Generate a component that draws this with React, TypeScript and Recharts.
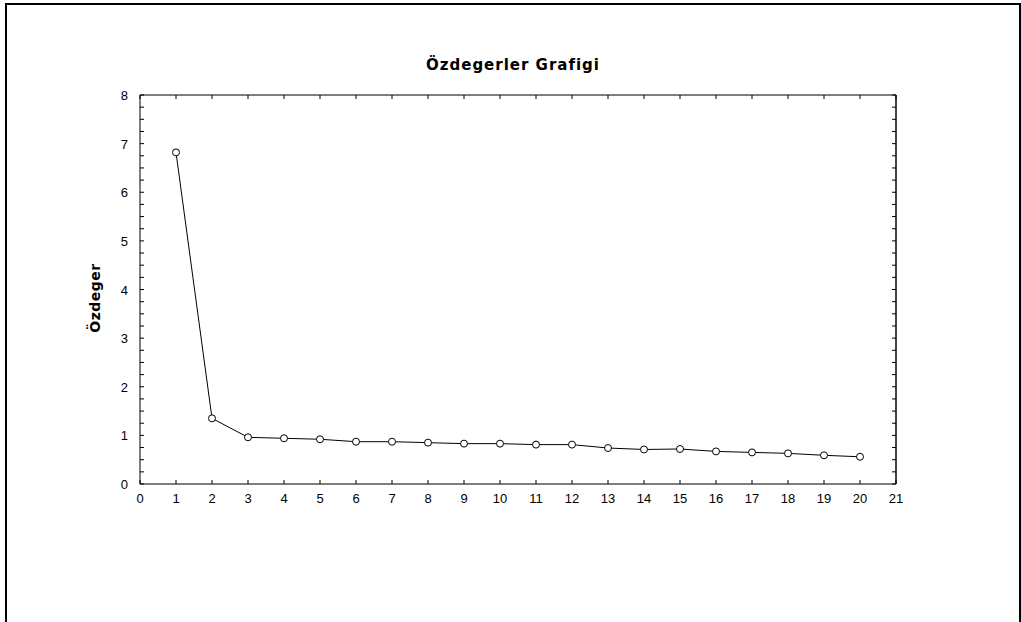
import { LineChart, Line, XAxis, YAxis } from 'recharts';

const components = [1, 2, 3, 4, 5, 6, 7, 8, 9, 10, 11, 12, 13, 14, 15, 16, 17, 18, 19, 20];
const eigenvalues = [6.82, 1.35, 0.96, 0.94, 0.92, 0.87, 0.87, 0.85, 0.83, 0.83, 0.81, 0.81, 0.74, 0.71, 0.72, 0.67, 0.65, 0.63, 0.59, 0.56];
const xTicks = [0, 1, 2, 3, 4, 5, 6, 7, 8, 9, 10, 11, 12, 13, 14, 15, 16, 17, 18, 19, 20, 21];
const yTicks: number[] = [];
for (let i = 0; i <= 32; i++) yTicks.push(i / 4);

const title = 'Özdegerler Grafigi';
const yLabel = 'Özdeger';

const data = components.map((c, i) => ({ comp: c, value: eigenvalues[i] }));

const FONT = '"Liberation Sans", Arial, sans-serif';
const BOLD = '"DejaVu Sans", Verdana, sans-serif';
const TICK = 4;

const BottomTick = (props: any) => {
    const { x, y, payload } = props;
    return (
        <g>
            <line x1={x} y1={y} x2={x} y2={y - TICK} stroke="#000" />
            <text x={x} y={y + 19} textAnchor="middle" fontSize={13} fontFamily={FONT} fill="#000">
                {payload.value}
            </text>
        </g>
    );
};

const TopTick = (props: any) => {
    const { x, y } = props;
    return <line x1={x} y1={y} x2={x} y2={y + TICK} stroke="#000" />;
};

const LeftTick = (props: any) => {
    const { x, y, payload } = props;
    const major = Number.isInteger(payload.value);
    return (
        <g>
            <line x1={x} y1={y} x2={x + TICK} y2={y} stroke="#000" />
            {major && (
                <text x={x - 12} y={y + 5} textAnchor="end" fontSize={13} fontFamily={FONT} fill="#000">
                    {payload.value}
                </text>
            )}
        </g>
    );
};

const RightTick = (props: any) => {
    const { x, y } = props;
    return <line x1={x} y1={y} x2={x - TICK} y2={y} stroke="#000" />;
};

export default function App() {
    return (
        <div style={{ position: 'absolute', left: 0, top: 0, width: 1021, height: 622, background: '#fff', overflow: 'hidden' }}>
            <div
                style={{
                    position: 'absolute',
                    left: 5,
                    top: 3,
                    width: 1012,
                    height: 640,
                    borderTop: '2px solid #000',
                    borderLeft: '2px solid #000',
                    borderRight: '2px solid #000',
                }}
            />
            <div
                style={{
                    position: 'absolute',
                    left: 313,
                    width: 400,
                    top: 56,
                    textAlign: 'center',
                    fontFamily: BOLD,
                    fontWeight: 'bold',
                    fontSize: 15,
                    letterSpacing: 1,
                    color: '#000',
                }}
            >
                {title}
            </div>
            <div
                style={{
                    position: 'absolute',
                    left: 95,
                    top: 298,
                    transform: 'translate(-50%, -50%) rotate(-90deg)',
                    fontFamily: BOLD,
                    fontWeight: 'bold',
                    fontSize: 14,
                    letterSpacing: 0.5,
                    color: '#000',
                    whiteSpace: 'nowrap',
                }}
            >
                {yLabel}
            </div>
            <div style={{ position: 'absolute', left: 0, top: 0 }}>
                <LineChart width={1021} height={622} data={data} margin={{ top: 94, right: 124, bottom: 137, left: 139 }}>
                    <XAxis
                        dataKey="comp"
                        type="number"
                        domain={[0, 21]}
                        ticks={xTicks}
                        height={1}
                        tickSize={0}
                        tickMargin={0}
                        tickLine={false}
                        tick={<BottomTick />}
                        axisLine={{ stroke: '#000' }}
                        interval={0}
                    />
                    <XAxis
                        xAxisId="top"
                        dataKey="comp"
                        orientation="top"
                        type="number"
                        domain={[0, 21]}
                        ticks={xTicks}
                        height={1}
                        tickSize={0}
                        tickMargin={0}
                        tickLine={false}
                        tick={<TopTick />}
                        axisLine={{ stroke: '#000' }}
                        interval={0}
                    />
                    <YAxis
                        type="number"
                        domain={[0, 8]}
                        ticks={yTicks}
                        width={1}
                        tickSize={0}
                        tickMargin={0}
                        tickLine={false}
                        tick={<LeftTick />}
                        axisLine={{ stroke: '#000' }}
                        interval={0}
                    />
                    <YAxis
                        yAxisId="right"
                        orientation="right"
                        type="number"
                        domain={[0, 8]}
                        ticks={yTicks}
                        width={1}
                        tickSize={0}
                        tickMargin={0}
                        tickLine={false}
                        tick={<RightTick />}
                        axisLine={{ stroke: '#444', strokeWidth: 2 }}
                        interval={0}
                    />
                    <Line
                        xAxisId="top"
                        yAxisId="right"
                        dataKey="value"
                        stroke="none"
                        dot={false}
                        activeDot={false}
                        legendType="none"
                        isAnimationActive={false}
                    />
                    <Line
                        dataKey="value"
                        stroke="#000"
                        strokeWidth={1}
                        dot={{ r: 3.5, fill: '#fff', stroke: '#000', strokeWidth: 1 }}
                        isAnimationActive={false}
                    />
                </LineChart>
            </div>
        </div>
    );
}
